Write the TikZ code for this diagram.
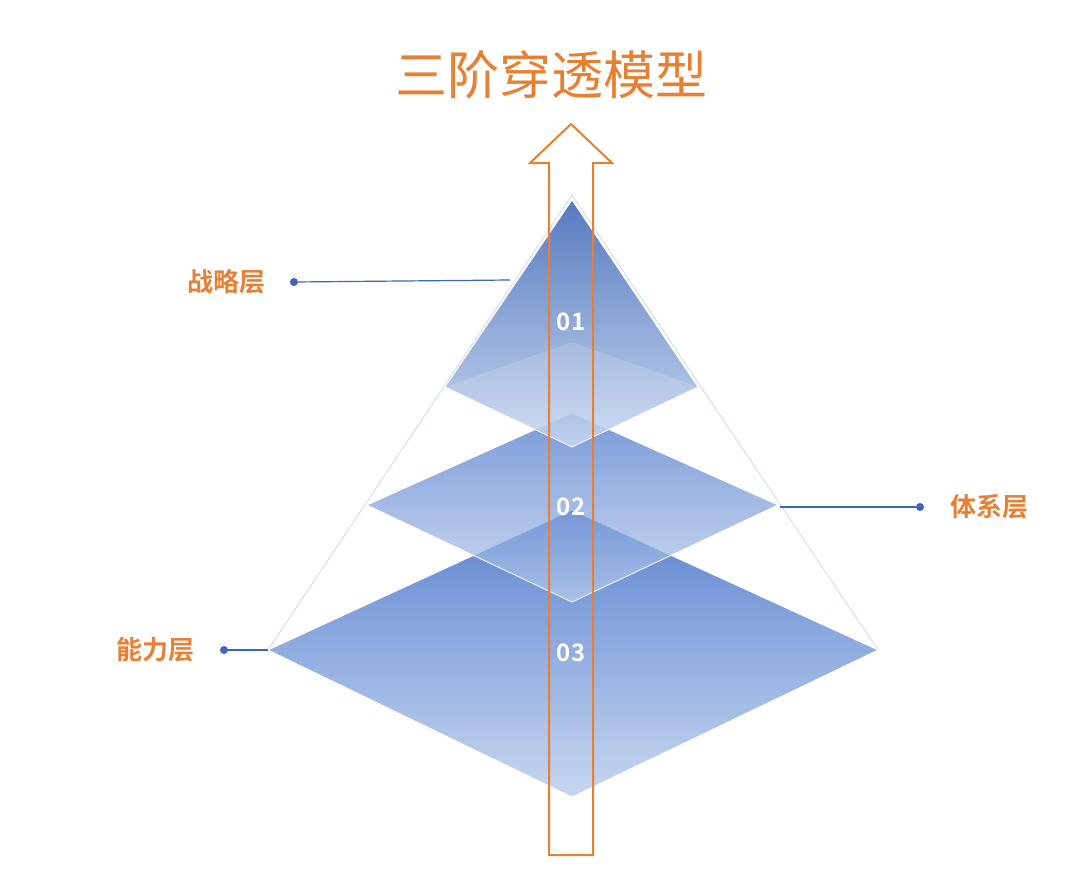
\documentclass[tikz,border=0pt]{standalone}
\usepackage{fontspec}
\setmainfont{Noto Sans CJK SC}
\newfontfamily\cjkb{Noto Sans CJK SC Bold}
\definecolor{org}{RGB}{232,128,52}
\definecolor{bdark}{RGB}{64,110,200}
\definecolor{blite}{RGB}{190,208,238}
\definecolor{lnb}{RGB}{60,100,190}
\begin{document}
\begin{tikzpicture}[x=1pt,y=-1pt,
  layer/.style={top color=bdark,bottom color=blite,fill opacity=0.85,draw=white,line width=0.8pt},
  lbl/.style={font=\cjkb\fontsize{26}{26}\selectfont,text=org},
  num/.style={font=\cjkb\fontsize{24}{24}\selectfont,text=white},
  dotc/.style={circle,fill=lnb,inner sep=0pt,minimum size=8pt}]
\useasboundingbox (0,0) rectangle (1080,871);
% outline
\draw[blite!70,line width=1pt] (268,650) -- (572,195) -- (878,650);
% bottom layer
\path[layer] (268,650) -- (572,510) -- (878,650) -- (572,797) -- cycle;
% middle layer
\path[layer,fill opacity=0.7] (367,505) -- (572,413) -- (778,505) -- (572,602) -- cycle;
% top layer
\path[layer,top color=bdark!90!black] (572,200) -- (698,387) -- (572,447) -- (445,387) -- cycle;
\path[fill=white,fill opacity=0.15] (445,387) -- (572,342) -- (698,387) -- (572,447) -- cycle;
% arrow
\draw[org,line width=2pt,line join=miter] (549,855) -- (549,163) -- (530,163) -- (571,124) -- (612,163) -- (593,163) -- (593,855) -- cycle;
% numbers
\node[num] (n1) at (571,322) {01};
\node[num] (n2) at (571,507) {02};
\node[num] (n3) at (571,653) {03};
% title
\node[font=\fontsize{52}{52}\selectfont,text=org] (title) at (551,75) {三阶穿透模型};
% labels
\node[lbl] (l1) at (226,282) {战略层};
\node[dotc] (d1) at (294,282) {};
\coordinate (e1) at (510,280);
\draw[lnb,line width=1.2pt] (d1) -- (e1);
\node[lbl] (l2) at (989,507) {体系层};
\node[dotc] (d2) at (920,507) {};
\coordinate (e2) at (780,507);
\draw[lnb,line width=1.2pt] (d2) -- (e2);
\node[lbl] (l3) at (155,650) {能力层};
\node[dotc] (d3) at (224,650) {};
\coordinate (e3) at (268,650);
\draw[lnb,line width=1.2pt] (d3) -- (e3);
\end{tikzpicture}
\end{document}
